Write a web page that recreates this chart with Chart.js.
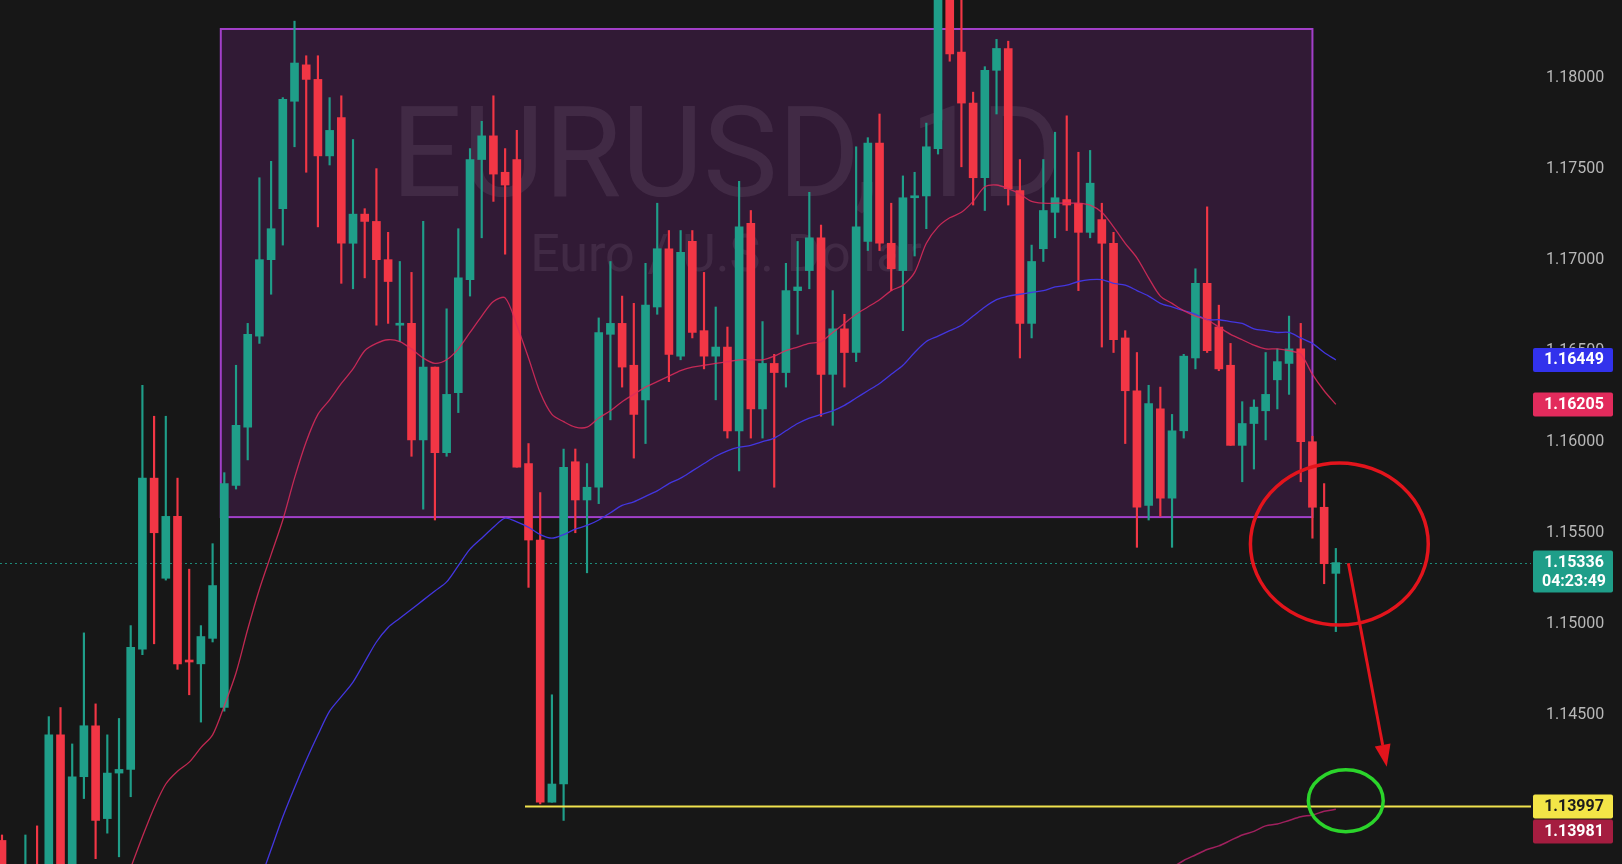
<!DOCTYPE html>
<html>
<head>
<meta charset="utf-8">
<title>EURUSD, 1D</title>
<script src="https://cdn.jsdelivr.net/npm/chart.js@4.4.1/dist/chart.umd.min.js"></script>
<style>
  html, body { margin: 0; padding: 0; background: #171717; overflow: hidden; }
  #wrap { width: 1622px; height: 864px; position: relative; }
</style>
</head>
<body>
<div id="wrap"><canvas id="chart"></canvas></div>
<script>
// daily candles, oldest first
const opens = [
  1.1381, 1.1355, 1.1350, 1.1366, 1.1355, 1.1439, 1.1362, 1.1416, 1.1444, 1.1393,
  1.1418, 1.1420, 1.1486, 1.1580, 1.1525, 1.1559, 1.1480, 1.1478, 1.1492, 1.1454,
  1.1576, 1.1608, 1.1658, 1.1700, 1.1728, 1.1787, 1.1807, 1.1799, 1.1757, 1.1778,
  1.1709, 1.1725, 1.1721, 1.1700, 1.1664, 1.1665, 1.1601, 1.1641, 1.1594, 1.1627,
  1.1689, 1.1755, 1.1768, 1.1748, 1.1755, 1.1588, 1.1546, 1.1402, 1.1412, 1.1589,
  1.1568, 1.1575, 1.1659, 1.1665, 1.1642, 1.1623, 1.1674, 1.1706, 1.1647, 1.1710,
  1.1661, 1.1647, 1.1652, 1.1606, 1.1720, 1.1618, 1.1643, 1.1638, 1.1683, 1.1694,
  1.1712, 1.1637, 1.1662, 1.1649, 1.1710, 1.1764, 1.1709, 1.1694, 1.1734, 1.1735,
  1.1761, 1.1850, 1.1814, 1.1786, 1.1745, 1.1804, 1.1816, 1.1738, 1.1665, 1.1706,
  1.1726, 1.1733, 1.1731, 1.1715, 1.1722, 1.1709, 1.1657, 1.1628, 1.1565, 1.1618,
  1.1569, 1.1606, 1.1646, 1.1687, 1.1663, 1.1642, 1.1598, 1.1610, 1.1617, 1.1634,
  1.1643, 1.1651, 1.1600, 1.1564, 1.15277
];
const highs = [
  1.1384, 1.1366, 1.1384, 1.1389, 1.1449, 1.1454, 1.1434, 1.1495, 1.1456, 1.1439,
  1.1448, 1.1499, 1.1631, 1.1614, 1.1614, 1.1580, 1.1530, 1.1499, 1.1544, 1.1583,
  1.1642, 1.1665, 1.1745, 1.1754, 1.1789, 1.1831, 1.1812, 1.1812, 1.1789, 1.1790,
  1.1766, 1.1728, 1.1750, 1.1715, 1.1699, 1.1693, 1.1721, 1.1641, 1.1673, 1.1717,
  1.1761, 1.1776, 1.1790, 1.1761, 1.1771, 1.1599, 1.1572, 1.1461, 1.1596, 1.1596,
  1.1588, 1.1668, 1.1699, 1.1680, 1.1676, 1.1698, 1.1731, 1.1716, 1.1716, 1.1716,
  1.1693, 1.1674, 1.1663, 1.1743, 1.1727, 1.1666, 1.1648, 1.1698, 1.1710, 1.1737,
  1.1719, 1.1683, 1.1670, 1.1762, 1.1767, 1.1780, 1.1731, 1.1746, 1.1748, 1.1775,
  1.1855, 1.1858, 1.1845, 1.1792, 1.1806, 1.1821, 1.1820, 1.1755, 1.1708, 1.1755,
  1.1770, 1.1779, 1.1759, 1.1760, 1.1731, 1.1715, 1.1661, 1.1649, 1.1631, 1.1630,
  1.1615, 1.1648, 1.1695, 1.1729, 1.1675, 1.1654, 1.1622, 1.1623, 1.1649, 1.1651,
  1.1669, 1.1665, 1.1603, 1.1577, 1.15414
];
const lows = [
  1.1340, 1.1345, 1.1342, 1.1345, 1.1350, 1.1352, 1.1357, 1.1404, 1.1371, 1.1385,
  1.1372, 1.1405, 1.1483, 1.1489, 1.1524, 1.1475, 1.1461, 1.1446, 1.1490, 1.1452,
  1.1574, 1.1590, 1.1654, 1.1681, 1.1708, 1.1762, 1.1748, 1.1718, 1.1752, 1.1687,
  1.1684, 1.1690, 1.1664, 1.1665, 1.1655, 1.1592, 1.1563, 1.1557, 1.1592, 1.1616,
  1.1680, 1.1712, 1.1732, 1.1703, 1.1586, 1.1520, 1.1401, 1.1402, 1.1392, 1.1550,
  1.1528, 1.1566, 1.1612, 1.1630, 1.1591, 1.1599, 1.1670, 1.1633, 1.1645, 1.1657,
  1.1640, 1.1623, 1.1602, 1.1584, 1.1602, 1.1602, 1.1575, 1.1630, 1.1659, 1.1684,
  1.1614, 1.1609, 1.1630, 1.1644, 1.1705, 1.1705, 1.1683, 1.1661, 1.1702, 1.1717,
  1.1758, 1.1809, 1.1751, 1.1730, 1.1727, 1.1780, 1.1730, 1.1646, 1.1657, 1.1699,
  1.1712, 1.1716, 1.1683, 1.1712, 1.1652, 1.1649, 1.1599, 1.1542, 1.1557, 1.1559,
  1.1542, 1.1602, 1.1640, 1.1649, 1.1639, 1.1598, 1.1578, 1.1585, 1.1601, 1.1618,
  1.1626, 1.1578, 1.1547, 1.1522, 1.14957
];
const closes = [
  1.1355, 1.1362, 1.1366, 1.1352, 1.1439, 1.1360, 1.1416, 1.1444, 1.1392, 1.1418,
  1.1420, 1.1487, 1.1580, 1.1550, 1.1559, 1.1478, 1.1479, 1.1493, 1.1521, 1.1577,
  1.1609, 1.1659, 1.1700, 1.1717, 1.1788, 1.1808, 1.1799, 1.1757, 1.1771, 1.1709,
  1.1725, 1.1721, 1.1700, 1.1688, 1.1665, 1.1601, 1.1641, 1.1594, 1.1626, 1.1690,
  1.1755, 1.1768, 1.1747, 1.1741, 1.1586, 1.1546, 1.1402, 1.1412, 1.1586, 1.1568,
  1.1575, 1.1660, 1.1665, 1.1641, 1.1615, 1.1675, 1.1706, 1.1648, 1.1704, 1.1660,
  1.1647, 1.1652, 1.1606, 1.1718, 1.1618, 1.1643, 1.1638, 1.1683, 1.1685, 1.1712,
  1.1637, 1.1662, 1.1649, 1.1718, 1.1764, 1.1709, 1.1695, 1.1734, 1.1735, 1.1762,
  1.1850, 1.1813, 1.1786, 1.1745, 1.1804, 1.1816, 1.1739, 1.1665, 1.1699, 1.1727,
  1.1734, 1.1730, 1.1715, 1.1742, 1.1709, 1.1656, 1.1628, 1.1564, 1.1621, 1.1569,
  1.1606, 1.1647, 1.1687, 1.1650, 1.1640, 1.1598, 1.1610, 1.1619, 1.1626, 1.1644,
  1.1651, 1.1600, 1.1564, 1.1533, 1.15336
];

// moving averages, each starting at the candle index given
const maFastStart = 11;
const maFast = [
  1.1366, 1.1383, 1.1399, 1.1412, 1.1419, 1.1424, 1.1432, 1.1439, 1.1455, 1.1473,
  1.1497, 1.1519, 1.1538, 1.1557, 1.1580, 1.1600, 1.1615, 1.1623, 1.1632, 1.1640,
  1.1650, 1.1654, 1.1656, 1.1655, 1.1651, 1.1646, 1.1643, 1.1645, 1.1651, 1.1660,
  1.1669, 1.1677, 1.1679, 1.1664, 1.1646, 1.1627, 1.1615, 1.1611, 1.1608, 1.1608,
  1.1613, 1.1617, 1.1622, 1.1626, 1.1630, 1.1633, 1.1636, 1.1639, 1.1641, 1.1642,
  1.1643, 1.1644, 1.1645, 1.1645, 1.1645, 1.1647, 1.1650, 1.1652, 1.1654, 1.1655,
  1.1660, 1.1665, 1.1670, 1.1674, 1.1678, 1.1683, 1.1686, 1.1693, 1.1709, 1.1718,
  1.1723, 1.1726, 1.1732, 1.1740, 1.1741, 1.1739, 1.1736, 1.1732, 1.1731, 1.1731,
  1.1731, 1.1731, 1.1730, 1.1726, 1.1718, 1.1709, 1.1701, 1.1690, 1.1680, 1.1676,
  1.1672, 1.1669, 1.1667, 1.1663, 1.1659, 1.1656, 1.1653, 1.1651, 1.1651, 1.1650,
  1.1648, 1.1637, 1.1628, 1.16205
];
const maMidStart = 22;
const maMid = [
  1.1358, 1.1376, 1.1394, 1.1410, 1.1425, 1.1439, 1.1452, 1.1460, 1.1468, 1.1479,
  1.1490, 1.1498, 1.1503, 1.1508, 1.1513, 1.1518, 1.1523, 1.1532, 1.1541, 1.1547,
  1.1553, 1.1558, 1.1556, 1.1553, 1.1549, 1.1547, 1.1549, 1.1552, 1.1554, 1.1557,
  1.1561, 1.1565, 1.1567, 1.1570, 1.1573, 1.1577, 1.1580, 1.1584, 1.1588, 1.1592,
  1.1595, 1.1597, 1.1598, 1.1600, 1.1602, 1.1606, 1.1610, 1.1613, 1.1615, 1.1617,
  1.1620, 1.1624, 1.1628, 1.1632, 1.1637, 1.1642, 1.1649, 1.1655, 1.1658, 1.1661,
  1.1664, 1.1669, 1.1674, 1.1678, 1.1680, 1.1681, 1.1682, 1.1683, 1.1685, 1.1686,
  1.1688, 1.1689, 1.1689, 1.1687, 1.1686, 1.1683, 1.1680, 1.1676, 1.1674, 1.1672,
  1.1670, 1.1667, 1.1667, 1.1666, 1.1665, 1.1662, 1.1661, 1.1660, 1.1660, 1.1657,
  1.1654, 1.1649, 1.16449
];
const maSlowStart = 100;
const maSlow = [
  1.1366, 1.1370, 1.1373, 1.1376, 1.1378, 1.1381, 1.1384, 1.1386, 1.1389, 1.1390,
  1.1392, 1.1394, 1.1395, 1.1397, 1.13981
];

const priceTicks = [1.145, 1.15, 1.155, 1.16, 1.165, 1.17, 1.175, 1.18];
const lastPrice = 1.15336;
const countdown = '04:23:49';
const supportLevel = 1.13997;
const tagPrices = [1.16449, 1.16205, 1.15336, 1.13997, 1.13981];
const symbolText = 'EURUSD, 1D';
const descText = 'Euro / U.S. Dollar';

// drawings, in candle index / price units
const rangeBox = { from: 18.7, to: 112.0, top: 1.18267, bottom: 1.15586 };
const supportFrom = 44.7;
const redRing = { x: 114.3, y: 1.15438, rx: 7.6, ry: 0.00445 };
const greenRing = { x: 114.85, y: 1.14028, rx: 3.2, ry: 0.0017 };
const arrow = { x0: 115.07, y0: 1.15332, x1: 118.35, y1: 1.14215 };

const GREEN = '#1f9e89';
const RED = '#f23645';
const FONT = 'Roboto, "Liberation Sans", Arial, sans-serif';
const tagStyles = [
  { bg: '#3232ec', fg: '#ffffff' },
  { bg: '#e22b5c', fg: '#ffffff' },
  { bg: '#1f9e89', fg: '#ffffff', sub: countdown },
  { bg: '#f3e547', fg: '#1c1c1c' },
  { bg: '#a51d40', fg: '#ffffff' }
];

const idx = opens.map((_, i) => i);
const candleColors = idx.map(i => closes[i] >= opens[i] ? GREEN : RED);
const series = (values, start) => values.map((v, k) => ({ x: start + k, y: v }));

const toPx = (chart, x, y) => [chart.scales.x.getPixelForValue(x), chart.scales.y.getPixelForValue(y)];

function fitText(ctx, text, width, cx, baseline) {
  ctx.font = '100px ' + FONT;
  const w = ctx.measureText(text).width;
  ctx.font = (100 * width / w).toFixed(1) + 'px ' + FONT;
  ctx.fillText(text, cx, baseline);
}

function ring(chart, r, color) {
  const { ctx } = chart;
  const [cx, cy] = toPx(chart, r.x, r.y);
  const [ex, ey] = toPx(chart, r.x + r.rx, r.y + r.ry);
  ctx.strokeStyle = color;
  ctx.lineWidth = 3.5;
  ctx.beginPath();
  ctx.ellipse(cx, cy, Math.abs(ex - cx), Math.abs(cy - ey), 0, 0, Math.PI * 2);
  ctx.stroke();
}

const overlay = {
  id: 'overlay',
  beforeDraw(chart) {
    const { ctx, width, height } = chart;
    ctx.save();
    ctx.fillStyle = '#171717';
    ctx.fillRect(0, 0, width, height);
    ctx.restore();
  },
  beforeDatasetsDraw(chart) {
    const { ctx, chartArea: a } = chart;
    ctx.save();
    ctx.beginPath();
    ctx.rect(a.left, a.top, a.right - a.left, a.bottom - a.top);
    ctx.clip();

    // watermark
    ctx.fillStyle = 'rgba(255,255,255,0.09)';
    ctx.textAlign = 'center';
    ctx.textBaseline = 'alphabetic';
    fitText(ctx, symbolText, 672, 727, 196);
    fitText(ctx, descText, 392, 726, 271);

    // range rectangle
    const [x1, y1] = toPx(chart, rangeBox.from, rangeBox.top);
    const [x2, y2] = toPx(chart, rangeBox.to, rangeBox.bottom);
    ctx.fillStyle = 'rgba(156,39,176,0.2)';
    ctx.fillRect(x1, y1, x2 - x1, y2 - y1);
    ctx.strokeStyle = '#a23fc9';
    ctx.lineWidth = 2;
    ctx.strokeRect(x1, y1, x2 - x1, y2 - y1);

    // last price line
    const yl = Math.round(chart.scales.y.getPixelForValue(lastPrice)) + 0.5;
    ctx.setLineDash([2, 3]);
    ctx.strokeStyle = 'rgba(31,158,137,0.85)';
    ctx.lineWidth = 1;
    ctx.beginPath();
    ctx.moveTo(a.left, yl);
    ctx.lineTo(a.right, yl);
    ctx.stroke();
    ctx.restore();
  },
  afterDatasetsDraw(chart) {
    const { ctx, chartArea: a } = chart;
    ctx.save();
    ctx.beginPath();
    ctx.rect(a.left, a.top, a.right - a.left, a.bottom - a.top);
    ctx.clip();

    // horizontal support
    const [sx, sy] = toPx(chart, supportFrom, supportLevel);
    ctx.strokeStyle = '#f0e24e';
    ctx.lineWidth = 2;
    ctx.beginPath();
    ctx.moveTo(sx, sy);
    ctx.lineTo(a.right, sy);
    ctx.stroke();

    ring(chart, redRing, '#e3141c');
    ring(chart, greenRing, '#2bd42b');

    // arrow
    const [ax, ay] = toPx(chart, arrow.x0, arrow.y0);
    const [bx, by] = toPx(chart, arrow.x1, arrow.y1);
    const ang = Math.atan2(by - ay, bx - ax);
    const head = 22, half = 8;
    const hx = bx - head * Math.cos(ang), hy = by - head * Math.sin(ang);
    ctx.strokeStyle = '#e3141c';
    ctx.fillStyle = '#e3141c';
    ctx.lineWidth = 3;
    ctx.beginPath();
    ctx.moveTo(ax, ay);
    ctx.lineTo(hx, hy);
    ctx.stroke();
    ctx.beginPath();
    ctx.moveTo(bx, by);
    ctx.lineTo(hx + half * Math.sin(ang), hy - half * Math.cos(ang));
    ctx.lineTo(hx - half * Math.sin(ang), hy + half * Math.cos(ang));
    ctx.closePath();
    ctx.fill();
    ctx.restore();
  },
  afterDraw(chart) {
    const { ctx, chartArea: a } = chart;
    const ys = chart.scales.y;
    const left = a.right + 2, w = 80;
    let prevBottom = -Infinity;
    ctx.save();
    ctx.font = 'bold 16px ' + FONT;
    ctx.textAlign = 'center';
    ctx.textBaseline = 'middle';
    tagPrices.forEach((p, k) => {
      const st = tagStyles[k];
      const h = st.sub ? 42 : 24;
      let top = ys.getPixelForValue(p) - 12;
      if (top < prevBottom + 1) top = prevBottom + 1;
      ctx.fillStyle = st.bg;
      ctx.beginPath();
      ctx.roundRect(left, top, w, h, 2);
      ctx.fill();
      ctx.fillStyle = st.fg;
      ctx.fillText(p.toFixed(5), left + w / 2 + 1, top + 12.5);
      if (st.sub) ctx.fillText(st.sub, left + w / 2 + 1, top + 31);
      prevBottom = top + h;
    });
    ctx.restore();
  }
};

new Chart(document.getElementById('chart'), {
  type: 'bar',
  data: {
    datasets: [
      {
        type: 'line',
        data: series(maFast, maFastStart),
        borderColor: 'rgba(222,44,92,0.85)',
        borderWidth: 1.3,
        pointRadius: 0,
        tension: 0.3,
        order: 0
      },
      {
        type: 'line',
        data: series(maMid, maMidStart),
        borderColor: '#4336e0',
        borderWidth: 1.3,
        pointRadius: 0,
        tension: 0.3,
        order: 0
      },
      {
        type: 'line',
        data: series(maSlow, maSlowStart),
        borderColor: '#a0205e',
        borderWidth: 1.5,
        pointRadius: 0,
        tension: 0.3,
        order: 0
      },
      {
        data: idx.map(i => ({ x: i, y: [opens[i], closes[i]] })),
        backgroundColor: candleColors,
        barThickness: 8,
        minBarLength: 2,
        grouped: false,
        borderWidth: 0,
        order: 1
      },
      {
        data: idx.map(i => ({ x: i, y: [lows[i], highs[i]] })),
        backgroundColor: candleColors,
        barThickness: 1.5,
        grouped: false,
        borderWidth: 0,
        order: 2
      }
    ]
  },
  options: {
    responsive: true,
    maintainAspectRatio: false,
    animation: false,
    layout: { padding: 0 },
    plugins: { legend: { display: false }, tooltip: { enabled: false } },
    scales: {
      x: {
        type: 'linear',
        min: -0.171,
        max: 130.68,
        offset: false,
        display: false,
        grid: { display: false }
      },
      y: {
        type: 'linear',
        position: 'right',
        min: 1.136806,
        max: 1.184262,
        beginAtZero: false,
        grid: { display: false, drawTicks: false },
        border: { display: false },
        afterBuildTicks: s => { s.ticks = priceTicks.map(v => ({ value: v })); },
        // fixed axis width, and no label overhang padding so the plot fills the full height
        afterFit: s => { s.width = 91; s.paddingTop = 0; s.paddingBottom = 0; },
        ticks: {
          autoSkip: false,
          padding: 15,
          color: '#b8b8b8',
          font: { family: FONT, size: 16 },
          callback: v => Number(v).toFixed(5)
        }
      }
    }
  },
  plugins: [overlay]
});
</script>
</body>
</html>
